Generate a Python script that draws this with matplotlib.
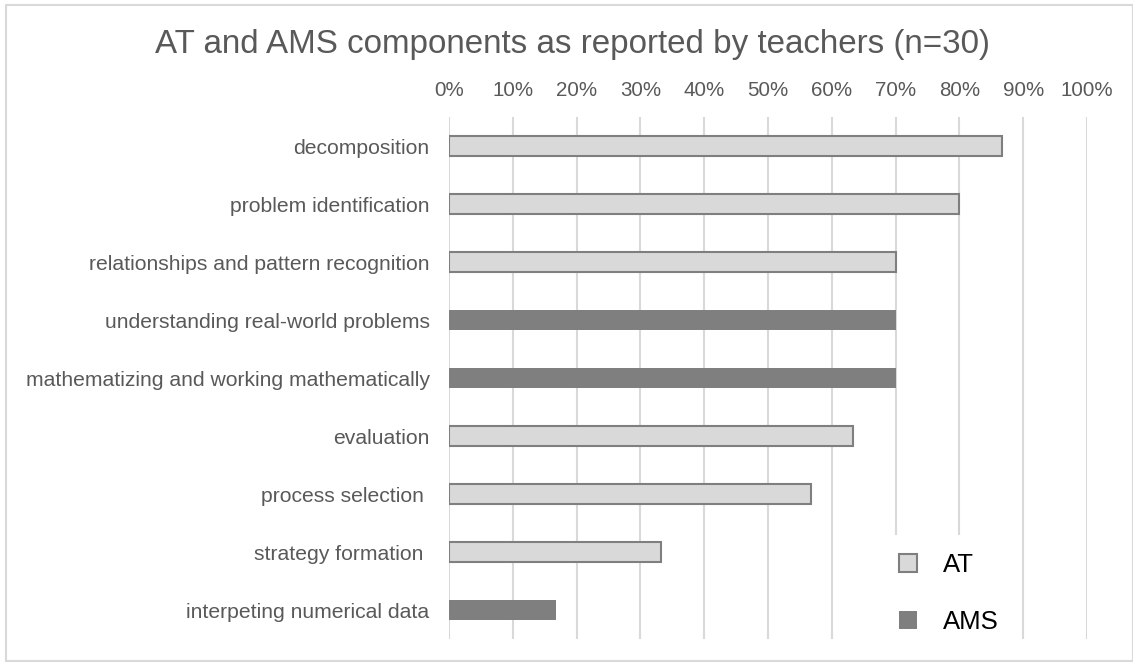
import matplotlib
matplotlib.use("Agg")
import matplotlib.pyplot as plt
from matplotlib.patches import Patch, Rectangle
from matplotlib.ticker import PercentFormatter

# data (top to bottom as in the chart)
components = [
    "decomposition",
    "problem identification",
    "relationships and pattern recognition",
    "understanding real-world problems",
    "mathematizing and working mathematically",
    "evaluation",
    "process selection ",
    "strategy formation ",
    "interpeting numerical data",
]
shares = [86.7, 80.0, 70.0, 70.0, 70.0, 63.3, 56.7, 33.3, 16.7]
groups = ["AT", "AT", "AT", "AMS", "AMS", "AT", "AT", "AT", "AMS"]

fills = {"AT": "#d9d9d9", "AMS": "#7f7f7f"}
TEXT = "#595959"

plt.rcParams["font.family"] = ["Liberation Sans", "DejaVu Sans"]

fig = plt.figure(figsize=(11.33, 6.63), dpi=100)
ax = fig.add_axes([449 / 1133, 1 - 639 / 663, 638 / 1133, 522 / 663])

ypos = list(range(len(components)))
for y, v, g in zip(ypos, shares, groups):
    ax.barh(y, v, height=0.36, color=fills[g],
            edgecolor="#7f7f7f", linewidth=1.5 if g == "AT" else 0, zorder=3)

ax.set_ylim(len(components) - 0.5, -0.5)
ax.set_yticks(ypos)
ax.set_yticklabels(components, fontsize=15.25, color=TEXT)
ax.set_xlim(0, 100)
ax.set_xticks(range(0, 101, 10))
ax.xaxis.set_major_formatter(PercentFormatter(decimals=0))
ax.xaxis.tick_top()
ax.tick_params(axis="x", length=0, pad=12, labelsize=14.8, labelcolor=TEXT)
ax.tick_params(axis="y", length=0, pad=14)
ax.grid(axis="x", color="#d9d9d9", linewidth=1.5, zorder=0)
for s in ax.spines.values():
    s.set_visible(False)

handles = [Patch(facecolor=fills["AT"], edgecolor="#7f7f7f", linewidth=1.5),
           Patch(facecolor=fills["AMS"], edgecolor="#7f7f7f", linewidth=0)]
leg = ax.legend(handles, ["AT", "AMS"], loc="upper left",
                bbox_to_anchor=((881 - 449) / 638, (639 - 535) / 522),
                fontsize=18.5, handlelength=0.7, handleheight=0.7,
                handletextpad=1.0, labelspacing=1.3, borderpad=0.7,
                borderaxespad=0,
                frameon=True, facecolor="white", edgecolor="none", framealpha=1)
leg.get_frame().set_boxstyle("square", pad=0)
leg.set_zorder(5)

fig.text(0.505, 1 - 45 / 663, "AT and AMS components as reported by teachers (n=30)",
         ha="center", va="center", fontsize=23.9, color=TEXT)

fig.patches.append(Rectangle((6 / 1133, 2 / 663), 1 - 6 / 1133, 1 - 7 / 663,
                             transform=fig.transFigure, fill=False,
                             edgecolor="#d9d9d9", linewidth=1.5))

fig.savefig("out.png", dpi=100)
